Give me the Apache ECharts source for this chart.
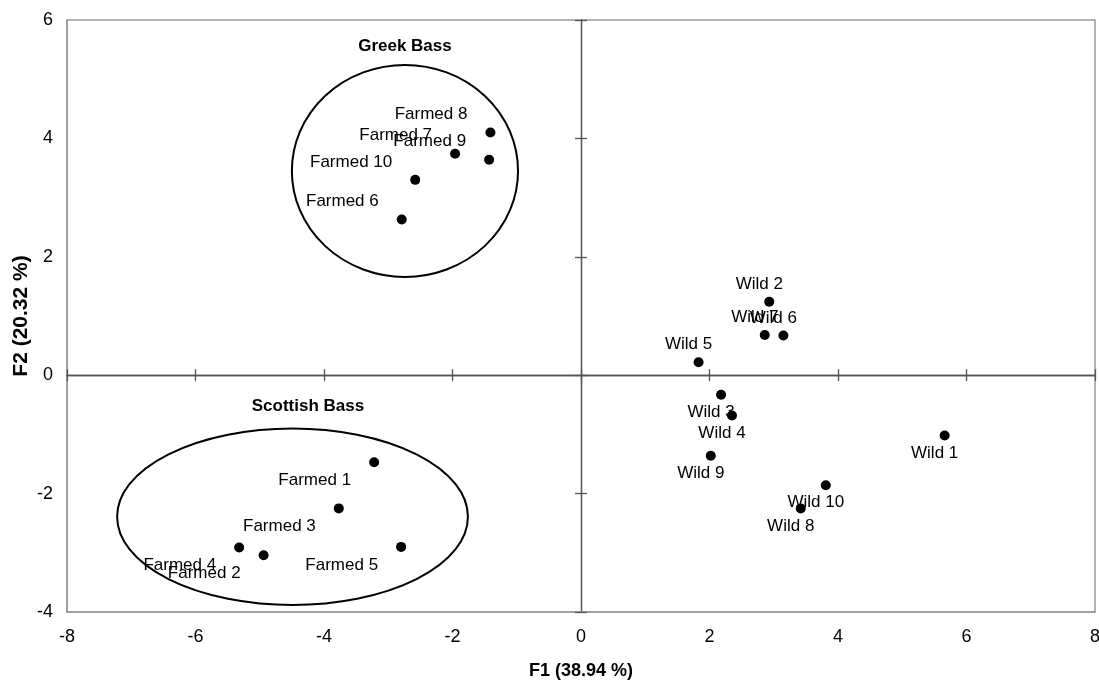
<!DOCTYPE html>
<html>
<head>
<meta charset="utf-8">
<script src="https://cdn.jsdelivr.net/npm/echarts@6/dist/echarts.min.js"></script>
<style>
html,body{margin:0;padding:0;background:#fff;}
#chart{width:1099px;height:681px;}
</style>
</head>
<body>
<div id="chart"></div>
<script>
// PCA scores
var greekNames = ['Farmed 6', 'Farmed 7', 'Farmed 8', 'Farmed 9', 'Farmed 10'];
var greekF1 = [-2.79, -1.96, -1.41, -1.43, -2.58];
var greekF2 = [2.63, 3.74, 4.10, 3.64, 3.30];

var scotNames = ['Farmed 1', 'Farmed 2', 'Farmed 3', 'Farmed 4', 'Farmed 5'];
var scotF1 = [-3.22, -4.94, -3.77, -5.32, -2.80];
var scotF2 = [-1.47, -3.04, -2.25, -2.91, -2.90];

var wildNames = ['Wild 1', 'Wild 2', 'Wild 3', 'Wild 4', 'Wild 5', 'Wild 6', 'Wild 7', 'Wild 8', 'Wild 9', 'Wild 10'];
var wildF1 = [5.66, 2.93, 2.18, 2.35, 1.83, 3.15, 2.86, 3.42, 2.02, 3.81];
var wildF2 = [-1.02, 1.24, -0.33, -0.68, 0.22, 0.67, 0.68, -2.25, -1.36, -1.86];

// group ellipses: centre and half axes in F1/F2 units
var groupNames = ['Greek Bass', 'Scottish Bass'];
var groupCenters = [[-2.74, 3.45], [-4.49, -2.39]];
var groupRadii = [[1.76, 1.79], [2.73, 1.49]];
var groupTitleAt = [[-2.74, 5.55], [-4.25, -0.53]];

var xMin = -8, xMax = 8, xStep = 2;
var yMin = -4, yMax = 6, yStep = 2;

var FONT = '"Liberation Sans", Arial, sans-serif';
var INK = '#000';

function farmedPoints(names, xs, ys) {
    return names.map(function (n, i) {
        return {
            name: n,
            value: [xs[i], ys[i]],
            label: {position: 'left', distance: 18, offset: [0, ys[i] >= 0 ? -18 : 18]}
        };
    });
}
function wildPoints(names, xs, ys) {
    return names.map(function (n, i) {
        return {
            name: n,
            value: [xs[i], ys[i]],
            label: {position: ys[i] >= 0 ? 'top' : 'bottom', distance: 4, offset: [-10, 0]}
        };
    });
}

var pointLabel = {
    show: true,
    formatter: '{b}',
    color: INK,
    opacity: 1,
    fontSize: 17,
    fontFamily: FONT
};
var dotStyle = {color: INK, opacity: 1};

var ellipseData = groupCenters.map(function (c, i) {
    return [c[0], c[1], groupRadii[i][0], groupRadii[i][1]];
});

// extra axes sit on zero and carry the crossing ticks
function zeroTickAxis(inside, extra) {
    return {
        type: 'value',
        min: extra.min, max: extra.max, interval: extra.interval,
        position: extra.position,
        axisLine: {show: true, onZero: true, lineStyle: {color: '#555', width: 1.3}},
        axisTick: {show: true, inside: inside, length: 6, lineStyle: {color: '#555', width: 1.3}},
        axisLabel: {show: false},
        splitLine: {show: false}
    };
}

var chart = echarts.init(document.getElementById('chart'));
chart.setOption({
    animation: false,
    backgroundColor: '#fff',
    grid: {
        left: 67, right: 4, top: 20, bottom: 69,
        outerBoundsMode: 'none',
        containLabel: false,
        show: true, borderColor: '#9a9a9a', borderWidth: 1.5
    },
    xAxis: [
        {
            type: 'value', min: xMin, max: xMax, interval: xStep,
            position: 'bottom',
            name: 'F1 (38.94 %)', nameLocation: 'middle', nameGap: 50,
            nameMoveOverlap: false,
            nameTextStyle: {color: INK, fontSize: 18, fontWeight: 'bold', fontFamily: FONT},
            axisLine: {show: true, onZero: false, lineStyle: {color: '#9a9a9a', width: 1.5}},
            axisTick: {show: false},
            axisLabel: {color: INK, fontSize: 18, fontFamily: FONT, margin: 16},
            splitLine: {show: false}
        },
        zeroTickAxis(true, {min: xMin, max: xMax, interval: xStep, position: 'bottom'}),
        zeroTickAxis(false, {min: xMin, max: xMax, interval: xStep, position: 'bottom'})
    ],
    yAxis: [
        {
            type: 'value', min: yMin, max: yMax, interval: yStep,
            position: 'left',
            name: 'F2 (20.32 %)', nameLocation: 'middle', nameGap: 35,
            nameMoveOverlap: false,
            nameTextStyle: {color: INK, fontSize: 21, fontWeight: 'bold', fontFamily: FONT},
            axisLine: {show: true, onZero: false, lineStyle: {color: '#9a9a9a', width: 1.5}},
            axisTick: {show: false},
            axisLabel: {color: INK, fontSize: 18, fontFamily: FONT, margin: 14},
            splitLine: {show: false}
        },
        zeroTickAxis(true, {min: yMin, max: yMax, interval: yStep, position: 'left'}),
        zeroTickAxis(false, {min: yMin, max: yMax, interval: yStep, position: 'left'})
    ],
    series: [
        {
            type: 'custom',
            name: 'groups',
            silent: true,
            encode: {x: 0, y: 1},
            data: ellipseData,
            renderItem: function (params, api) {
                var c = api.coord([api.value(0), api.value(1)]);
                var s = api.size([api.value(2), api.value(3)]);
                var rx = s[0], ry = s[1];
                var d = 'M' + (c[0] - rx) + ' ' + c[1] +
                    ' A' + rx + ' ' + ry + ' 0 1 0 ' + (c[0] + rx) + ' ' + c[1] +
                    ' A' + rx + ' ' + ry + ' 0 1 0 ' + (c[0] - rx) + ' ' + c[1] + ' Z';
                return {
                    type: 'path',
                    shape: {pathData: d},
                    style: {fill: 'none', stroke: INK, lineWidth: 2}
                };
            },
            z: 1
        },
        {
            type: 'scatter',
            name: 'titles',
            silent: true,
            symbolSize: 0,
            itemStyle: dotStyle,
            data: groupNames.map(function (n, i) {
                return {name: n, value: groupTitleAt[i]};
            }),
            label: {
                show: true, position: 'inside', formatter: '{b}', opacity: 1,
                color: INK, fontSize: 17, fontWeight: 'bold', fontFamily: FONT
            }
        },
        {
            type: 'scatter', name: 'Greek farmed',
            symbol: 'circle', symbolSize: 10,
            itemStyle: dotStyle,
            label: pointLabel,
            data: farmedPoints(greekNames, greekF1, greekF2)
        },
        {
            type: 'scatter', name: 'Scottish farmed',
            symbol: 'circle', symbolSize: 10,
            itemStyle: dotStyle,
            label: pointLabel,
            data: farmedPoints(scotNames, scotF1, scotF2)
        },
        {
            type: 'scatter', name: 'Wild',
            symbol: 'circle', symbolSize: 10,
            itemStyle: dotStyle,
            label: pointLabel,
            data: wildPoints(wildNames, wildF1, wildF2)
        }
    ]
});
</script>
</body>
</html>
